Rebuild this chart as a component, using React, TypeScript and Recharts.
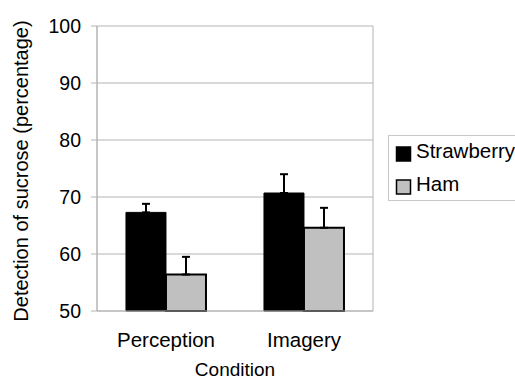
import { Bar, BarChart, CartesianGrid, ErrorBar, Legend, XAxis, YAxis } from "recharts";

const conditions = ["Perception", "Imagery"];
const seriesNames = ["Strawberry", "Ham"];
const strawberry = [67.3, 70.7];
const strawberryErr = [1.5, 3.3];
const ham = [56.4, 64.6];
const hamErr = [3.1, 3.5];
const yTicks = [50, 60, 70, 80, 90, 100];

const rows = conditions.map((c, i) => ({
  condition: c,
  strawberry: strawberry[i],
  strawberryErr: [0, strawberryErr[i]],
  ham: ham[i],
  hamErr: [0, hamErr[i]],
}));

const FONT = "Arial, 'Liberation Sans', Helvetica, sans-serif";
const gridGray = "#b4b4b4";

function LegendBox(props: { payload?: ReadonlyArray<{ value?: string; color?: string; payload?: any }> }) {
  // keep the series order of the original (Strawberry above Ham)
  const items = [...(props.payload ?? [])].sort(
    (a, b) => seriesNames.indexOf(a.value ?? "") - seriesNames.indexOf(b.value ?? ""),
  );
  return (
    <div
      style={{
        width: 160,
        height: 66,
        boxSizing: "border-box",
        border: "1px solid #c8c8c8",
        background: "#fff",
      }}
    >
      <svg width={158} height={64} style={{ display: "block" }}>
        {items.map((it, i) => {
          const fill = it.payload?.fill ?? it.color;
          return (
            <g key={it.value} transform={`translate(0, ${i * 33})`}>
              <rect
                x={7.5}
                y={11}
                width={14}
                height={14}
                fill={fill}
                stroke="#000"
                strokeWidth={1.5}
              />
              <text x={27} y={21.5} fontSize={20.5} fontFamily={FONT} fill="#000">
                {it.value}
              </text>
            </g>
          );
        })}
      </svg>
    </div>
  );
}

export default function App() {
  return (
    <div
      style={{
        position: "absolute",
        left: 0,
        top: 0,
        width: 515,
        height: 379,
        overflow: "hidden",
        background: "#fff",
      }}
    >
      <BarChart
        width={515}
        height={379}
        data={rows}
        margin={{ top: 26, right: 142, left: 0, bottom: 0 }}
        barCategoryGap="21%"
        barGap={0}
        style={{ fontFamily: FONT }}
      >
        <CartesianGrid
          stroke={gridGray}
          strokeWidth={1}
          verticalCoordinatesGenerator={({ offset }: any) => [
            offset.left,
            offset.left + offset.width,
          ]}
        />
        <XAxis
          dataKey="condition"
          height={68}
          tickSize={0}
          tickMargin={21}
          tickLine={false}
          axisLine={{ stroke: gridGray }}
          tick={{ fill: "#000", fontSize: 20.5, fontFamily: FONT }}
          label={{
            value: "Condition",
            position: "insideBottom",
            offset: 3,
            fill: "#000",
            fontSize: 19,
            fontFamily: FONT,
          }}
        />
        <YAxis
          width={97}
          domain={[50, 100]}
          ticks={yTicks}
          interval={0}
          tickSize={6}
          tickMargin={10}
          axisLine={{ stroke: gridGray }}
          tickLine={{ stroke: gridGray }}
          tick={{ fill: "#000", fontSize: 19.5, fontFamily: FONT }}
          label={{
            content: () => (
              <text
                x={28}
                y={171}
                transform="rotate(-90 28 171)"
                textAnchor="middle"
                fontSize={20}
                fontFamily={FONT}
                fill="#000"
              >
                Detection of sucrose (percentage)
              </text>
            ),
          }}
        />
        <Legend
          layout="vertical"
          align="center"
          verticalAlign="middle"
          wrapperStyle={{ left: 388, top: 135, width: 160 }}
          content={(p: any) => <LegendBox payload={p.payload} />}
        />
        <Bar
          dataKey="strawberry"
          name="Strawberry"
          fill="#000"
          stroke="#000"
          strokeWidth={1}
          isAnimationActive={false}
        >
          <ErrorBar dataKey="strawberryErr" width={4} stroke="#000" strokeWidth={2} direction="y" />
        </Bar>
        <Bar
          dataKey="ham"
          name="Ham"
          fill="#c0c0c0"
          stroke="#000"
          strokeWidth={2}
          isAnimationActive={false}
        >
          <ErrorBar dataKey="hamErr" width={4} stroke="#000" strokeWidth={2} direction="y" />
        </Bar>
      </BarChart>
    </div>
  );
}
